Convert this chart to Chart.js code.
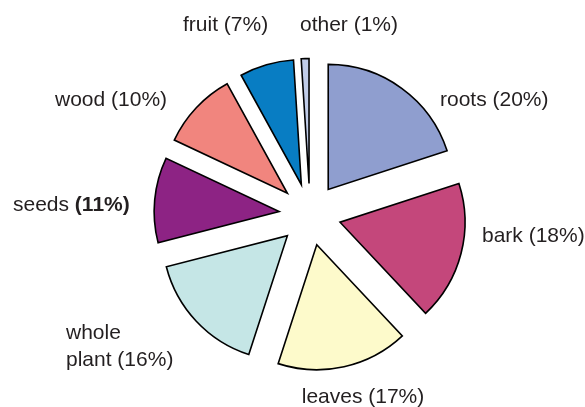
<!DOCTYPE html>
<html>
<head>
<meta charset="utf-8">
<script src="https://cdn.jsdelivr.net/npm/chart.js@4"></script>
<style>
  html, body { margin: 0; padding: 0; background: #fff; }
  #wrap { width: 585px; height: 407px; position: relative; }
</style>
</head>
<body>
<div id="wrap"><canvas id="c" width="585" height="407"></canvas></div>
<script>
const categories = ['roots', 'bark', 'leaves', 'whole plant', 'seeds', 'wood', 'fruit', 'other'];
const shares = [20, 18, 17, 16, 11, 10, 7, 1];
const sliceColors = ['#8F9ECF', '#C4477B', '#FDFACB', '#C5E6E6', '#8D2384', '#F1857E', '#087DC3', '#C0CCE8'];

// label layout (x, y, alignment); text built from categories + shares
const labelLayout = [
  { x: 440, y: 100, align: 'left' },
  { x: 482, y: 236, align: 'left' },
  { x: 363, y: 397, align: 'center' },
  { x: 66,  y: 333, align: 'left', split: true },
  { x: 13,  y: 205, align: 'left', boldValue: true },
  { x: 55,  y: 100, align: 'left' },
  { x: 183, y: 25,  align: 'left' },
  { x: 300, y: 25,  align: 'left' }
];

const EXPLODE = 31;
const FONT = '21px "Liberation Sans", Arial, sans-serif';
const BOLD = 'bold 21px "Liberation Sans", Arial, sans-serif';

const explodePlugin = {
  id: 'explode',
  afterUpdate(chart) {
    const meta = chart.getDatasetMeta(0);
    const ca = chart.chartArea;
    const cx = (ca.left + ca.right) / 2, cy = (ca.top + ca.bottom) / 2;
    meta.data.forEach(arc => {
      const mid = (arc.startAngle + arc.endAngle) / 2;
      arc.x = cx + Math.cos(mid) * EXPLODE;
      arc.y = cy + Math.sin(mid) * EXPLODE;
    });
  }
};

const labelPlugin = {
  id: 'sliceLabels',
  afterDraw(chart) {
    const ctx = chart.ctx;
    ctx.save();
    ctx.fillStyle = '#231F20';
    ctx.textBaseline = 'middle';
    categories.forEach((cat, i) => {
      const L = labelLayout[i];
      const valTxt = '(' + shares[i] + '%)';
      if (L.split) {
        const parts = cat.split(' ');
        ctx.font = FONT;
        ctx.textAlign = 'left';
        ctx.fillText(parts[0], L.x, L.y);
        ctx.fillText(parts[1] + ' ' + valTxt, L.x, L.y + 27);
      } else if (L.boldValue) {
        ctx.textAlign = 'left';
        ctx.font = FONT;
        const first = cat + ' ';
        ctx.fillText(first, L.x, L.y);
        const w = ctx.measureText(first).width;
        ctx.font = BOLD;
        ctx.fillText(valTxt, L.x + w, L.y);
      } else {
        ctx.font = FONT;
        ctx.textAlign = L.align;
        ctx.fillText(cat + ' ' + valTxt, L.x, L.y);
      }
    });
    ctx.restore();
  }
};

new Chart(document.getElementById('c'), {
  type: 'pie',
  data: {
    labels: categories,
    datasets: [{
      data: shares,
      backgroundColor: sliceColors,
      borderColor: '#000000',
      borderWidth: 1.6,
      borderJoinStyle: 'miter',
      radius: 125
    }]
  },
  options: {
    responsive: false,
    animation: false,
    events: [],
    layout: { padding: { left: 35, top: 22, right: 0, bottom: 0 } },
    plugins: {
      legend: { display: false },
      tooltip: { enabled: false }
    }
  },
  plugins: [explodePlugin, labelPlugin]
});
</script>
</body>
</html>
